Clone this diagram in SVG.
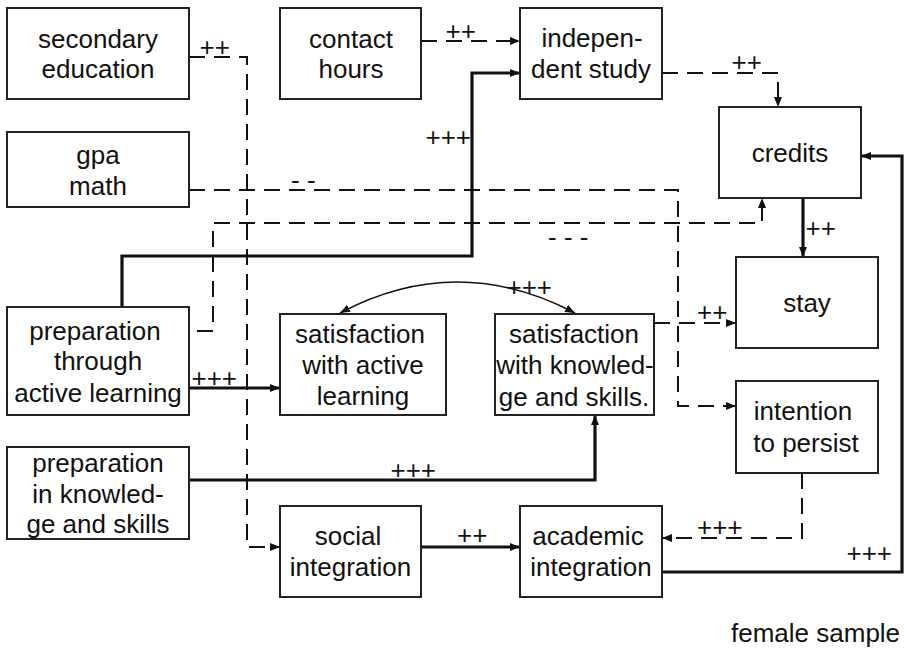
<svg xmlns="http://www.w3.org/2000/svg" width="907" height="649" viewBox="0 0 907 649">
<style>
.box{fill:#fff;stroke:#222;stroke-width:2}
.t{font-family:"Liberation Sans",Arial,sans-serif;font-size:26px;fill:#111;text-anchor:middle}
.l{font-family:"Liberation Sans",Arial,sans-serif;font-size:26px;fill:#111}
.d{fill:none;stroke:#111;stroke-width:2;stroke-dasharray:16 9;marker-end:url(#ah)}
.s{fill:none;stroke:#111;stroke-width:3.2;marker-end:url(#ah)}
.c{fill:none;stroke:#111;stroke-width:1.6;marker-end:url(#ah);marker-start:url(#ahs)}
</style>
<defs>
<marker id="ah" markerUnits="userSpaceOnUse" markerWidth="10" markerHeight="8" refX="10" refY="4" orient="auto"><path d="M0,0 L10,4 L0,8 z" fill="#111"/></marker>
<marker id="ahs" markerUnits="userSpaceOnUse" markerWidth="10" markerHeight="8" refX="0" refY="4" orient="auto"><path d="M10,0 L0,4 L10,8 z" fill="#111"/></marker>
</defs>
<rect width="907" height="649" fill="#fff"/>
<g id="connectors">
<path class="d" d="M189,57 H247 V547 H280"/>
<path class="d" d="M421,41 H520"/>
<path class="d" d="M662,73 H778 V107"/>
<path class="d" d="M189,190 H678 V406 H736"/>
<path class="d" d="M197,331 H213 V223 H762 V198"/>
<path class="s" d="M122,307 V256 H472 V73 H520"/>
<path class="s" d="M189,388 H280"/>
<path class="s" d="M189,480 H595 V415"/>
<path class="c" d="M340,313 Q457,251 575,313"/>
<path class="d" d="M654,323 H736"/>
<path class="d" d="M802,473 V538 H662"/>
<path class="s" d="M421,547 H520"/>
<path class="s" d="M662,572 H902 V156 H861"/>
<path class="s" d="M803,198 V257"/>
<text class="l" x="199.5" y="56">++</text>
<text class="l" x="445.5" y="40">++</text>
<text class="l" x="731.5" y="71">++</text>
<text class="l" x="291" y="189">- -</text>
<text class="l" x="548" y="246">- - -</text>
<text class="l" x="425.5" y="146">+++</text>
<text class="l" x="191.5" y="387">+++</text>
<text class="l" x="390.5" y="479">+++</text>
<text class="l" x="506.5" y="296">+++</text>
<text class="l" x="697" y="321">++</text>
<text class="l" x="697" y="536">+++</text>
<text class="l" x="457" y="544">++</text>
<text class="l" x="846.5" y="562">+++</text>
<text class="l" x="805.5" y="237">++</text>
</g>
<g id="secondary-education"><rect class="box" x="7" y="8" width="182" height="91"/><text class="t" x="98"><tspan x="98" y="48">secondary</tspan><tspan x="98" y="78">education</tspan></text></g>
<g id="contact-hours"><rect class="box" x="280" y="8" width="141" height="91"/><text class="t" x="351"><tspan x="351" y="48">contact</tspan><tspan x="351" y="78">hours</tspan></text></g>
<g id="independent-study"><rect class="box" x="520" y="8" width="142" height="91"/><text class="t" x="591"><tspan x="592" y="47">indepen-</tspan><tspan x="591" y="78">dent study</tspan></text></g>
<g id="gpa-math"><rect class="box" x="7" y="132" width="182" height="75"/><text class="t" x="98"><tspan x="98" y="164">gpa</tspan><tspan x="98" y="195">math</tspan></text></g>
<g id="credits"><rect class="box" x="719" y="107" width="142" height="91"/><text class="t" x="790" y="162">credits</text></g>
<g id="stay"><rect class="box" x="736" y="257" width="142" height="91"/><text class="t" x="807" y="312">stay</text></g>
<g id="preparation-active"><rect class="box" x="7" y="307" width="182" height="108"/><text class="t" x="98"><tspan x="95" y="340">preparation</tspan><tspan x="98" y="370">through</tspan><tspan x="98" y="402">active learning</tspan></text></g>
<g id="satisfaction-active"><rect class="box" x="280" y="314" width="166" height="101"/><text class="t" x="362"><tspan x="360" y="343">satisfaction</tspan><tspan x="363" y="374">with active</tspan><tspan x="363" y="405">learning</tspan></text></g>
<g id="satisfaction-knowledge"><rect class="box" x="495" y="314" width="159" height="101"/><text class="t" x="574"><tspan x="574" y="343">satisfaction</tspan><tspan x="575" y="374">with knowled-</tspan><tspan x="574" y="406">ge and skills.</tspan></text></g>
<g id="intention-to-persist"><rect class="box" x="736" y="381" width="142" height="92"/><text class="t" x="805"><tspan x="803" y="420">intention</tspan><tspan x="806" y="452">to persist</tspan></text></g>
<g id="preparation-knowledge"><rect class="box" x="7" y="447" width="182" height="92"/><text class="t" x="98"><tspan x="98" y="472">preparation</tspan><tspan x="98" y="503">in knowled-</tspan><tspan x="98" y="533">ge and skills</tspan></text></g>
<g id="social-integration"><rect class="box" x="280" y="506" width="141" height="91"/><text class="t" x="350"><tspan x="348" y="545">social</tspan><tspan x="350.5" y="576">integration</tspan></text></g>
<g id="academic-integration"><rect class="box" x="520" y="506" width="142" height="91"/><text class="t" x="591"><tspan x="588" y="545">academic</tspan><tspan x="591" y="576">integration</tspan></text></g>
<text class="l" x="731" y="642">female sample</text>
</svg>
